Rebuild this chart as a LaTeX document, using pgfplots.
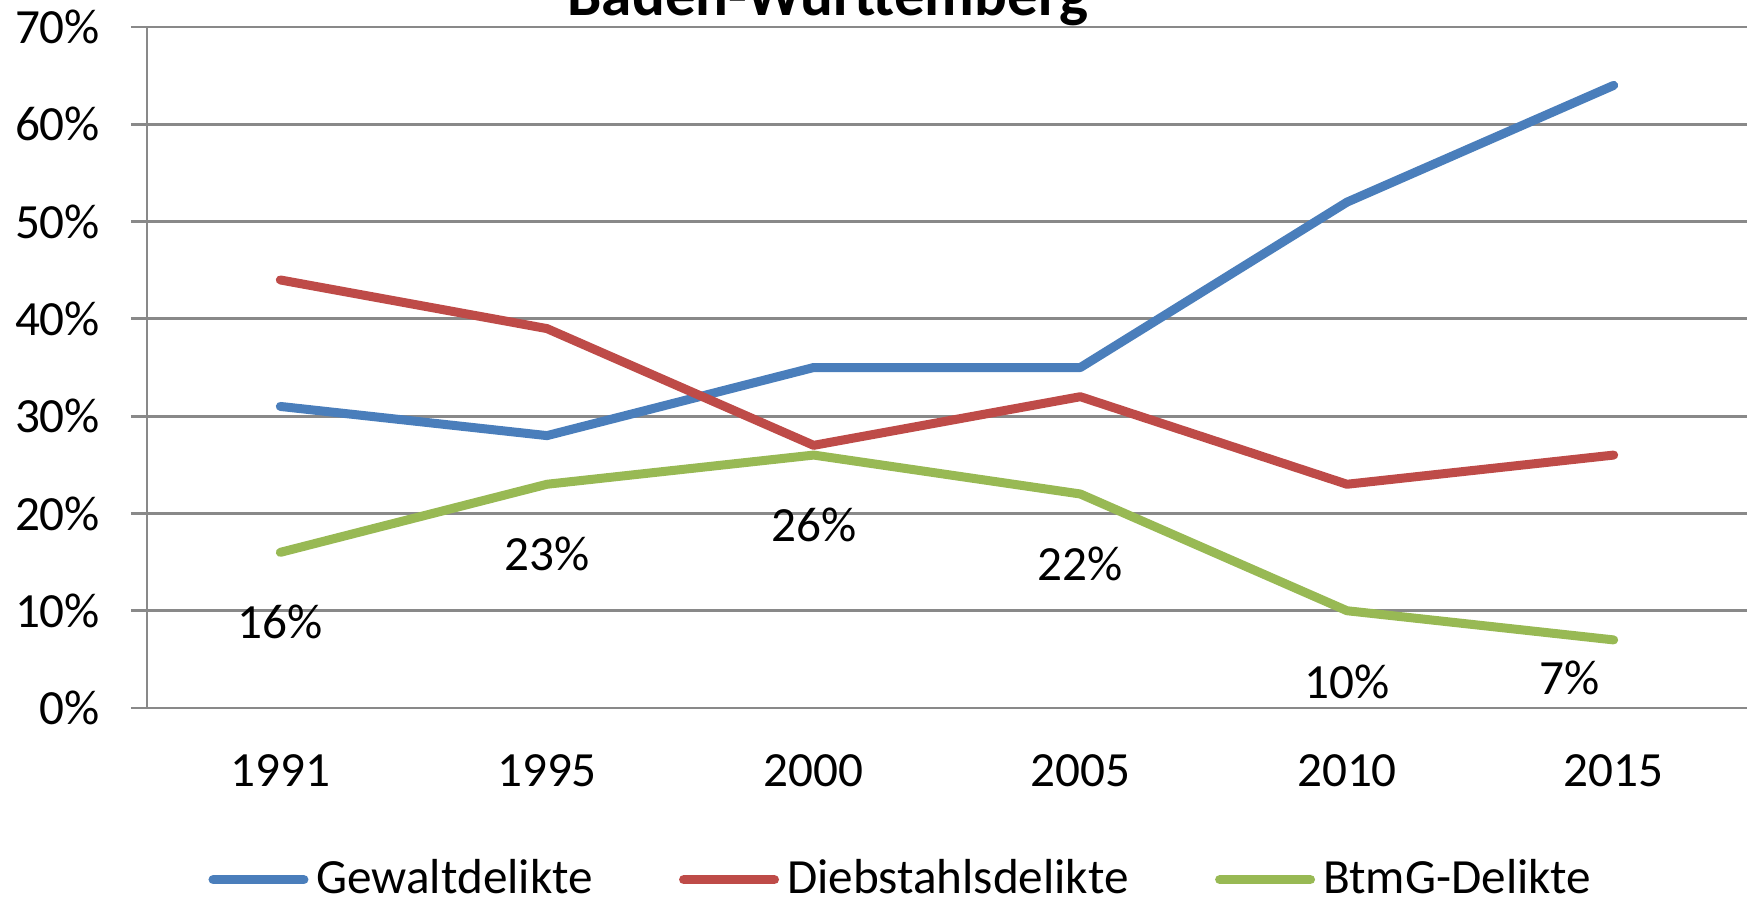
\documentclass[border=0pt]{standalone}
\usepackage{fontspec}
\setmainfont{Carlito}
\usepackage{pgfplots}
\pgfplotsset{compat=1.18}
\definecolor{cBlue}{HTML}{4A7EBB}
\definecolor{cRed}{HTML}{BE4B48}
\definecolor{cGreen}{HTML}{98B954}
\definecolor{cGrid}{HTML}{898989}
\begin{document}
\begin{tikzpicture}
\begin{axis}[
  name=ax, anchor=south west, at={(0,0)},
  scale only axis, width=400pt, height=170.25pt,
  xmin=-0.5, xmax=5.5, ymin=0, ymax=70,
  axis x line=bottom, axis y line=left,
  axis line style={cGrid, line width=0.7pt, -},
  xtick={0,1,2,3,4,5},
  xticklabels={1991,1995,2000,2005,2010,2015},
  minor xtick={-0.5,0.5,1.5,2.5,3.5,4.5,5.5},
  ytick={0,10,20,30,40,50,60,70},
  yticklabels={0\%,10\%,20\%,30\%,40\%,50\%,60\%,70\%},
  ymajorgrids, major grid style={cGrid, line width=0.7pt},
  tick style={cGrid, line width=0.7pt},
  xtick style={draw=none},
  minor x tick style={cGrid, line width=0.7pt},
  minor tick length=3.3pt, major tick length=4pt,
  tick align=outside,
  ticklabel style={font=\fontsize{12.3pt}{14pt}\selectfont, text=black},
  xticklabel style={yshift=-4pt},
  yticklabel style={xshift=-4.2pt},
  clip=false,
  legend columns=3,
  legend style={draw=none, fill=none, at={(axis description cs:0.473,-0.252)}, anchor=center,
    font=\fontsize{12.3pt}{14pt}\selectfont,
    /tikz/every odd column/.append style={column sep=0pt},
    /tikz/every even column/.append style={column sep=19.6pt}},
  legend image code/.code={\draw[#1, line width=2.4pt, line cap=round] (1.2pt,0pt) -- (23.8pt,0pt);},
  every axis plot/.append style={line width=2.25pt, line cap=round, line join=round, mark=none},
]
\addplot[cBlue] coordinates {(0,31) (1,28) (2,35) (3,35) (4,52) (5,64)};
\addlegendentry{Gewaltdelikte}
\addplot[cRed] coordinates {(0,44) (1,39) (2,27) (3,32) (4,23) (5,26)};
\addlegendentry{Diebstahlsdelikte}
\addplot[cGreen] coordinates {(0,16) (1,23) (2,26) (3,22) (4,10) (5,7)};
\addlegendentry{BtmG-Delikte}
\begin{scope}[every node/.style={font=\fontsize{12.3pt}{14pt}\selectfont}]
\node at (axis cs:0,8.84) {16\%};
\node at (axis cs:1,15.8) {23\%};
\node at (axis cs:2,18.8) {26\%};
\node at (axis cs:3,14.8) {22\%};
\node at (axis cs:4,2.7) {10\%};
\node at (axis cs:4.835,3.1) {7\%};
\end{scope}
\end{axis}
\node[anchor=base, font=\bfseries\fontsize{15.3pt}{17pt}\selectfont] at (170.25pt,173pt) {Baden-Württemberg};
\pgfresetboundingbox
\path[use as bounding box] (-36.75pt,-48.5pt) rectangle (401.25pt,177pt);
\end{tikzpicture}
\end{document}
